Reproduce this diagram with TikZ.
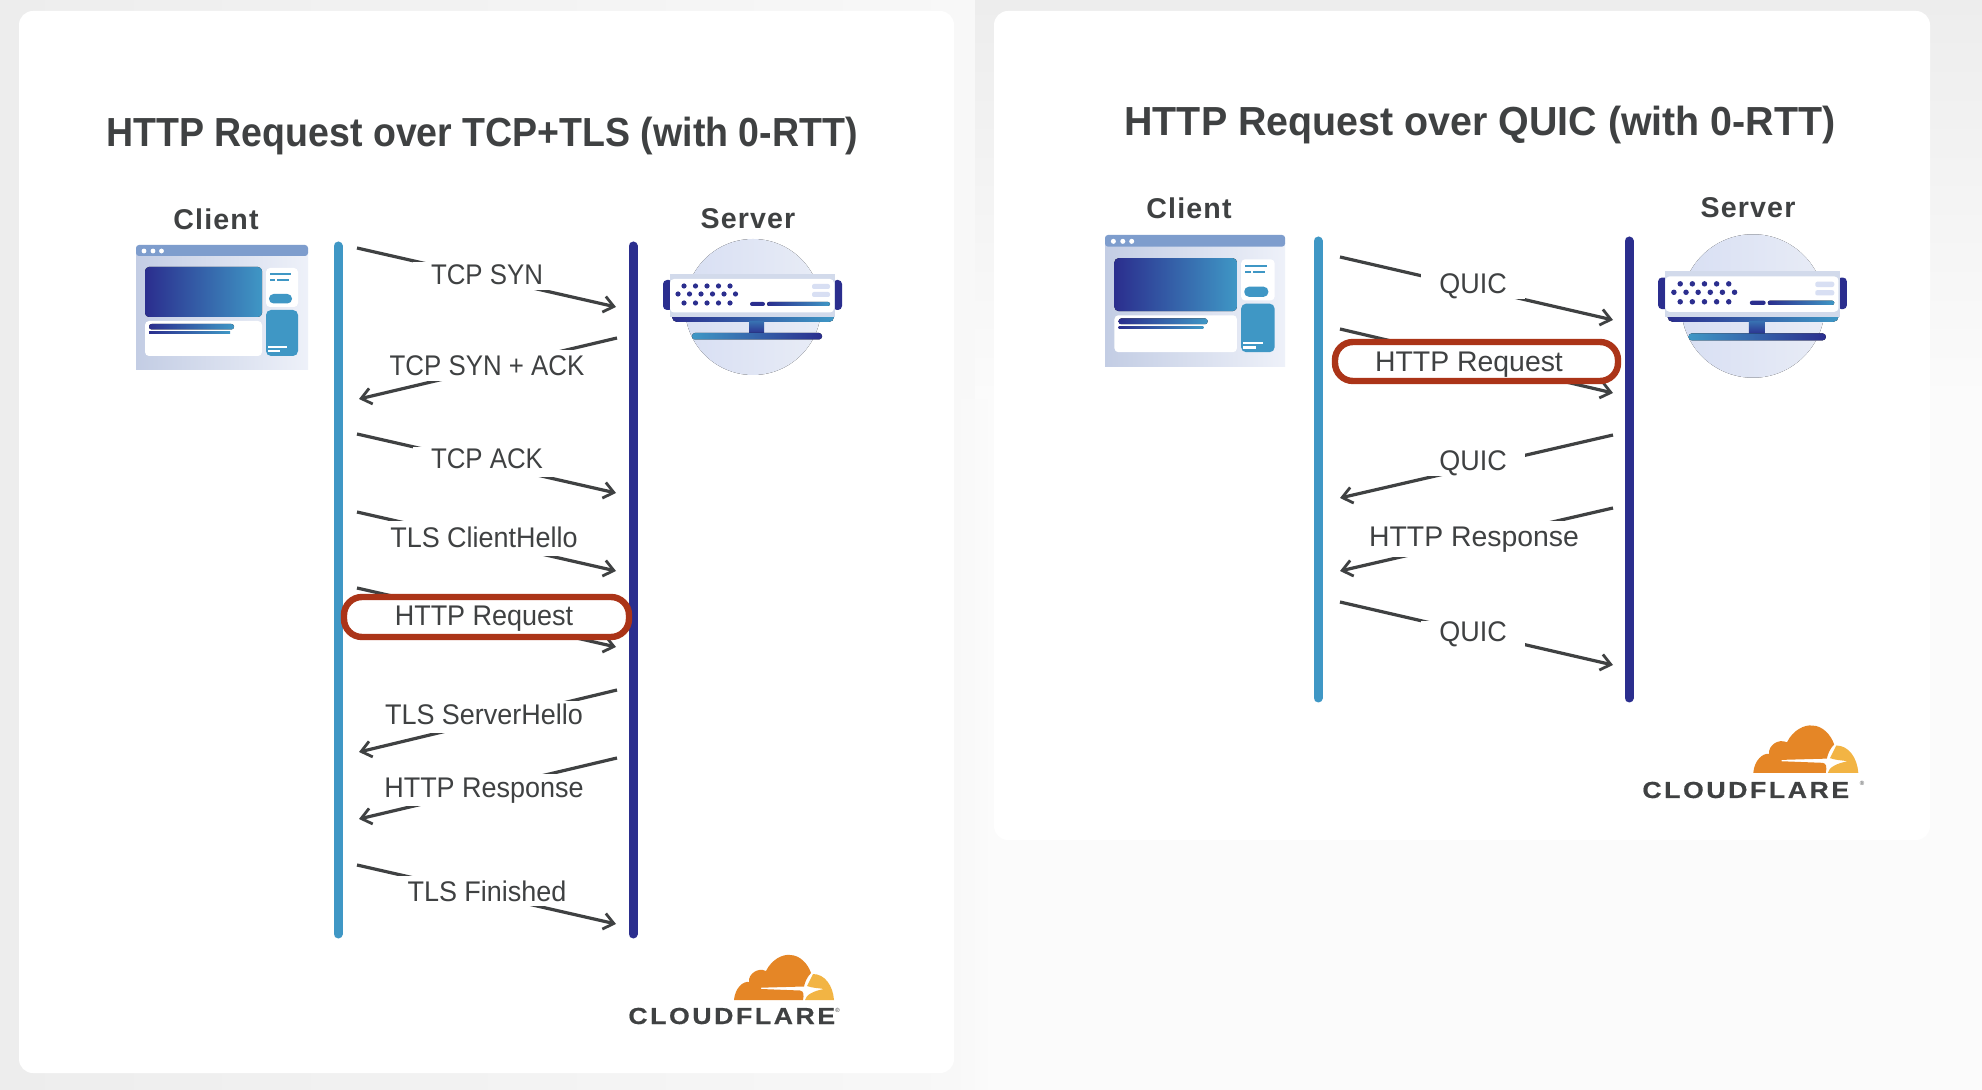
\documentclass[tikz,border=0pt]{standalone}
\usepackage{fontspec}
\setmainfont{Liberation Sans}
\usetikzlibrary{arrows.meta}
\definecolor{ink}{HTML}{3F4142}
\definecolor{cblue}{HTML}{3F97C5}
\definecolor{navy}{HTML}{2B2E8E}
\definecolor{redbox}{HTML}{AB3418}
\definecolor{winbar}{HTML}{7E9DCD}
\definecolor{winl}{HTML}{C3CDE4}
\definecolor{winr}{HTML}{EEF1F9}
\definecolor{orangeA}{HTML}{E58626}
\definecolor{orangeB}{HTML}{F2B444}
\definecolor{discl}{HTML}{D8DFF3}
\definecolor{discr}{HTML}{E8ECF6}
\definecolor{steel}{HTML}{D2DAEB}
\definecolor{bgA}{HTML}{EDEDED}
\definecolor{bgB}{HTML}{F8F8F8}
\definecolor{bgE}{HTML}{FBFBFB}
\tikzset{
  x=0.5pt,y=-0.5pt,
  card/.style={fill=white,rounded corners=7pt,draw=none},
  vbar/.style={line width=4.5pt,line cap=round},
  msg/.style={draw=ink,line width=1.6pt,-{Straight Barb[length=5pt,width=8pt,line width=1.4pt]}},
  lbl/.style={fill=white,text=ink,anchor=base,inner xsep=9pt,inner ysep=0pt,minimum height=14.5pt,text height=10.5pt,text depth=2.5pt},
  lblT/.style={lbl,font=\fontsize{14.2}{16}\selectfont\addfontfeatures{FakeStretch=0.91}},
  lblM/.style={lbl,font=\fontsize{14.2}{16}\selectfont\addfontfeatures{FakeStretch=0.95}},
  lblW/.style={lbl,font=\fontsize{14.2}{16}\selectfont},
  hibox/.style={draw=redbox,line width=3.2pt,fill=white,rounded corners=9pt},
  ttl/.style={text=ink,font=\fontsize{20.3}{24}\bfseries\selectfont},
  hdr/.style={text=ink,font=\fontsize{14.3}{17}\bfseries\selectfont},
}
\newcommand{\clientpic}{%
  \fill[left color=winl,right color=winr] (0,8) rectangle (172,125);
  \fill[winbar,rounded corners=1.5pt] (0,0) rectangle (172,11);
  \foreach \a in {8,17,25.5}{\fill[white] (\a,6) circle (2.4);}
  \fill[left color=navy,right color=cblue,rounded corners=2pt] (9,22) rectangle (126,72);
  \fill[white,rounded corners=2pt] (9,76) rectangle (126,111);
  \fill[left color=navy,right color=cblue,rounded corners=1.3pt] (13,79) rectangle (98,84.5);
  \fill[left color=navy,right color=cblue] (13,87) rectangle (94,89);
  \fill[white,rounded corners=2pt] (130,23) rectangle (162,62);
  \fill[cblue] (134,28) rectangle (155,30);
  \fill[cblue] (134,34) rectangle (139,36);
  \fill[cblue] (141,34) rectangle (153,36);
  \fill[cblue,rounded corners=2.3pt] (133,49) rectangle (156,58.5);
  \fill[cblue,rounded corners=2.5pt] (130,65) rectangle (162,111);
  \fill[white] (132,101) rectangle (151,103);
  \fill[white] (132,105.5) rectangle (144,107.5);
}
\newcommand{\serverpic}{%
  \fill[left color=discl,right color=discr] (0,0) circle (68);
  \fill[navy,rounded corners=2pt] (-90,-27) rectangle (-80,3);
  \fill[navy,rounded corners=2pt] (80,-27) rectangle (89,3);
  \fill[left color=navy,right color=cblue,rounded corners=2.5pt] (-81,4) rectangle (81,15);
  \fill[steel] (-83,-33) rectangle (82,10);
  \fill[white,rounded corners=2pt] (-83,-28) rectangle (81,5.5);
  \foreach \a in {-69,-57.5,-46,-34.5,-23}{\fill[navy] (\a,-21) circle (2.6);\fill[navy] (\a,-4) circle (2.6);}
  \foreach \a in {-75,-63.5,-52,-40.5,-29,-17.5}{\fill[navy] (\a,-13) circle (2.6);}
  \fill[navy,rounded corners=1pt] (-3,-5) rectangle (12,-1);
  \fill[left color=navy,right color=cblue,rounded corners=1pt] (14,-5) rectangle (77,-1);
  \fill[discl,rounded corners=1pt] (59,-23) rectangle (77,-18);
  \fill[discl,rounded corners=1pt] (59,-15) rectangle (77,-10);
  \fill[top color=cblue!60!navy,bottom color=navy] (-4,15) rectangle (11,27);
  \fill[left color=cblue,right color=navy,rounded corners=1.5pt] (-61,26) rectangle (69,32.5);
}
\newcommand{\cflogo}{%
  \fill[orangeA] (106,-24) .. controls (107,-36) and (115,-43) .. (121,-42)
     .. controls (120,-50) and (130,-57) .. (138,-53)
     .. controls (144,-65) and (155,-70) .. (162,-69)
     .. controls (172,-69) and (180,-60) .. (183,-51)
     .. controls (179,-47) and (177,-42) .. (176,-37.5)
     -- (133,-36.3) -- (133,-35) -- (172,-33.5)
     .. controls (176,-33) and (176,-29) .. (175,-24) -- cycle;
  \fill[orangeB] (177,-24) .. controls (178,-29) and (185,-33) .. (196,-35)
     .. controls (190,-36) and (184,-36) .. (179,-38)
     .. controls (181,-42) and (183,-46) .. (185,-50)
     .. controls (197,-50) and (205,-38) .. (206,-24) -- cycle;
  \node[anchor=base west,inner sep=0pt,text=ink,font=\fontsize{11.6}{14}\bfseries\selectfont] (cfword) at (0,0)
     {\addfontfeatures{LetterSpace=11,FakeStretch=1.15,FakeBold=0.6}CLOUDFLARE};
  \node[anchor=west,inner sep=0pt,text=ink,font=\fontsize{3}{3}\selectfont] (cfmark) at (207,-14) {®};
}
\begin{document}
\begin{tikzpicture}
\useasboundingbox (0,0) rectangle (1982,1090);
\fill[left color=bgA,right color=bgB] (0,0) rectangle (975,1090);
\fill[bgE] (975,0) rectangle (1982,1090);
\fill[top color=bgA,bottom color=bgE] (975,0) rectangle (1982,400);
\fill[left color=bgB,right color=bgE] (954,400) rectangle (994,1090);
\path[card] (19,11) rectangle (954,1073);
\path[card] (994,11) rectangle (1930,840);

% ---------- left panel ----------
\node[ttl] (ltitle) at (482,136) {\addfontfeatures{FakeStretch=0.924}HTTP Request over TCP+TLS (with 0-RTT)};
\node[hdr] (lclient) at (216,219) {\addfontfeatures{LetterSpace=4}Client};
\node[hdr] (lserver) at (748,219) {\addfontfeatures{LetterSpace=4}Server};
\begin{scope}[shift={(136,245)}]\clientpic\end{scope}
\begin{scope}[shift={(753,307)}]\serverpic\end{scope}

\coordinate (lct) at (338,246); \coordinate (lcb) at (338,934);
\coordinate (lst) at (633,246); \coordinate (lsb) at (633,934);
\draw[vbar,cblue] (lct) -- (lcb);
\draw[vbar,navy] (lst) -- (lsb);

\coordinate (la1) at (357,248);\coordinate (lb1) at (616,307);
\draw[msg] (la1) -- (lb1);
\node[lblT,minimum height=12.6pt,text height=11.4pt] (ll1) at (487,285) {TCP SYN};
\coordinate (la2) at (617,338);\coordinate (lb2) at (359,399);
\draw[msg] (la2) -- (lb2);
\node[lblT,minimum height=15.6pt,text height=12.9pt] (ll2) at (487,376) {TCP SYN + ACK};
\coordinate (la3) at (357,434);\coordinate (lb3) at (616,493);
\draw[msg] (la3) -- (lb3);
\node[lblT,minimum height=15.2pt,text height=9.3pt] (ll3) at (487,469) {TCP ACK};
\coordinate (la4) at (357,512);\coordinate (lb4) at (616,571);
\draw[msg] (la4) -- (lb4);
\node[lblM,minimum height=17.5pt,text height=11.6pt] (ll4) at (484,548) {TLS ClientHello};
\coordinate (la5) at (357,588);\coordinate (lb5) at (616,647);
\draw[msg] (la5) -- (lb5);
\draw[hibox] (344,597) rectangle (629,637);
\node[lblM,fill=none] (ll5) at (484,626) {HTTP Request};
\coordinate (la6) at (617,690);\coordinate (lb6) at (359,752);
\draw[msg] (la6) -- (lb6);
\node[lblM,minimum height=15.8pt] (ll6) at (484,725) {TLS ServerHello};
\coordinate (la7) at (617,758);\coordinate (lb7) at (359,819);
\draw[msg] (la7) -- (lb7);
\node[lblM,minimum height=15.8pt] (ll7) at (484,798) {HTTP Response};
\coordinate (la8) at (357,865);\coordinate (lb8) at (616,924);
\draw[msg] (la8) -- (lb8);
\node[lblM,minimum height=14.4pt,text height=12.7pt] (ll8) at (487,901) {TLS Finished};
\begin{scope}[shift={(628,1024)}]\cflogo\end{scope}

% ---------- right panel ----------
\node[ttl] (rtitle) at (1480,125) {\addfontfeatures{FakeStretch=0.97}HTTP Request over QUIC (with 0-RTT)};
\node[hdr] (rclient) at (1189,208) {\addfontfeatures{LetterSpace=4}Client};
\node[hdr] (rserver) at (1748,208) {\addfontfeatures{LetterSpace=4}Server};
\begin{scope}[shift={(1105,235)},xscale=1.047,yscale=1.056]\clientpic\end{scope}
\begin{scope}[shift={(1753,306)},scale=1.055]\serverpic\end{scope}

\coordinate (rct) at (1318,241); \coordinate (rcb) at (1318,698);
\coordinate (rst) at (1629,241); \coordinate (rsb) at (1629,698);
\draw[vbar,cblue] (rct) -- (rcb);
\draw[vbar,navy] (rst) -- (rsb);

\coordinate (ra1) at (1340,257);\coordinate (rb1) at (1613,320);
\draw[msg] (ra1) -- (rb1);
\node[lblM,minimum height=11pt] (rl1) at (1473,294) {QUIC};
\coordinate (ra2) at (1340,329);\coordinate (rb2) at (1613,393);
\draw[msg] (ra2) -- (rb2);
\draw[hibox] (1335,342) rectangle (1618,381);
\node[lblW,fill=none] (rl2) at (1469,372) {HTTP Request};
\coordinate (ra3) at (1613,435);\coordinate (rb3) at (1340,498);
\draw[msg] (ra3) -- (rb3);
\node[lblM,minimum height=12pt] (rl3) at (1473,471) {QUIC};
\coordinate (ra4) at (1613,508);\coordinate (rb4) at (1340,571);
\draw[msg] (ra4) -- (rb4);
\node[lblW,minimum height=18.3pt] (rl4) at (1474,547) {HTTP Response};
\coordinate (ra5) at (1340,602);\coordinate (rb5) at (1613,665);
\draw[msg] (ra5) -- (rb5);
\node[lblM,minimum height=11pt] (rl5) at (1473,642) {QUIC};
\begin{scope}[shift={(1642,798)},scale=1.05]\cflogo\end{scope}
\end{tikzpicture}
\end{document}
